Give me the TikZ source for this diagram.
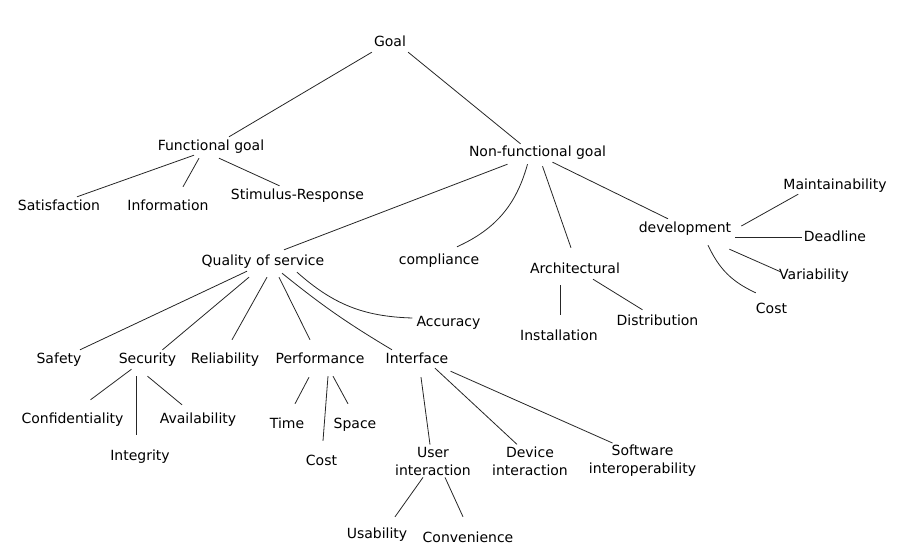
\documentclass[tikz,border=0pt]{standalone}
\usepackage{fontspec}
\setmainfont{DejaVu Sans}
\usepackage{tikz}
\usetikzlibrary{calc}

\tikzset{
  lbl/.style={font=\fontsize{14}{18}\selectfont, text height=11pt, text depth=3pt, inner sep=2pt},
  lbltwo/.style={font=\fontsize{14}{18}\selectfont, align=center, inner sep=2pt},
  edge/.style={line width=0.8pt, black!85}
}

\begin{document}
\begin{tikzpicture}[x=1pt, y=-1pt]
  \useasboundingbox (0,0) rectangle (902,559);
  % Top levels
  \node[lbl] (goal) at (390,43) {Goal};
  \node[lbl] (funcgoal) at (211,146) {Functional goal};
  \node[lbl] (nfgoal) at (537.5,153) {Non-functional goal};
  \node[lbl] (satisfaction) at (59,206) {Satisfaction};
  \node[lbl] (information) at (168,206) {Information};
  \node[lbl] (stimulus) at (297.5,195) {Stimulus-Response};
  \node[lbl] (qos) at (263,261) {Quality of service};
  \node[lbl] (compliance) at (439,260) {compliance};
  \node[lbl] (architectural) at (575,269) {Architectural};
  \node[lbl] (development) at (685,228) {development};
  % Development branch
  \node[lbl] (maintainability) at (835,185) {Maintainability};
  \node[lbl] (deadline) at (835,237) {Deadline};
  \node[lbl] (variability) at (814,275) {Variability};
  \node[lbl] (devcost) at (771.5,309) {Cost};
  \node[lbl] (accuracy) at (448.5,322) {Accuracy};
  \node[lbl] (installation) at (559,336) {Installation};
  \node[lbl] (distribution) at (657.5,321) {Distribution};
  % Quality of service branch
  \node[lbl] (safety) at (59,359) {Safety};
  \node[lbl] (security) at (147.5,359) {Security};
  \node[lbl] (reliability) at (225,359) {Reliability};
  \node[lbl] (performance) at (320,359) {Performance};
  \node[lbl] (interface) at (417,359) {Interface};
  \node[lbl] (confidentiality) at (72.5,419) {Confidentiality};
  \node[lbl] (availability) at (198,419) {Availability};
  \node[lbl] (integrity) at (140,456) {Integrity};
  \node[lbl] (time) at (287,424) {Time};
  \node[lbl] (space) at (355,424) {Space};
  \node[lbl] (perfcost) at (321.5,461) {Cost};
  \node[lbltwo] (userinter) at (433,461) {User\\interaction};
  \node[lbltwo] (deviceinter) at (530,461) {Device\\interaction};
  \node[lbltwo] (softinter) at (642.5,461) {Software\\interoperability};
  \node[lbl] (usability) at (377,534) {Usability};
  \node[lbl] (convenience) at (468,538) {Convenience};

  % Goal and its two kinds
  \draw[edge] (goal.south west) -- ([xshift=18pt]funcgoal.north);
  \draw[edge] (goal.south east) -- ([xshift=-17pt]nfgoal.north);
  \draw[edge] ([xshift=-17pt]funcgoal.south) -- ([xshift=18pt]satisfaction.north);
  \draw[edge] ([xshift=-12pt,yshift=-3pt]funcgoal.south) -- ([xshift=15pt,yshift=10pt]information.north);
  \draw[edge] ([xshift=8pt,yshift=-3pt]funcgoal.south) -- ([xshift=-18pt]stimulus.north);
  % Non-functional goal
  \draw[edge] ([xshift=-30pt,yshift=-2pt]nfgoal.south) -- ([xshift=21pt,yshift=2pt]qos.north);
  \draw[edge] ([xshift=-10pt,yshift=-2pt]nfgoal.south) to[bend left=25] ([xshift=18pt,yshift=4pt]compliance.north);
  \draw[edge] ([xshift=5pt,yshift=-4pt]nfgoal.south) -- ([xshift=-4pt,yshift=12pt]architectural.north);
  \draw[edge] ([xshift=15pt]nfgoal.south) -- ([xshift=-17pt]development.north);
  % Development
  \draw[edge] ([xshift=8pt,yshift=2pt]development.east) -- ([xshift=17pt]maintainability.south west);
  \draw[edge] ([xshift=2pt,yshift=-9pt]development.east) -- (deadline.west);
  \draw[edge] ([xshift=-4pt,yshift=-12pt]development.south east) -- ([xshift=4pt,yshift=3pt]variability.west);
  \draw[edge] ([xshift=23pt,yshift=-8pt]development.south) to[bend right=20] ([xshift=2pt,yshift=7pt]devcost.north west);
  % Architectural
  \draw[edge] ([xshift=-15pt,yshift=-7pt]architectural.south) -- ([xshift=1pt,yshift=12pt]installation.north);
  \draw[edge] ([xshift=18pt,yshift=-1pt]architectural.south) -- ([xshift=-15pt,yshift=2pt]distribution.north);
  % Quality of service
  \draw[edge] ([xshift=-16pt,yshift=-1pt]qos.south) -- ([xshift=21pt]safety.north);
  \draw[edge] ([xshift=-14pt,yshift=-7pt]qos.south) -- ([xshift=15pt]security.north);
  \draw[edge] ([xshift=4pt,yshift=-7pt]qos.south) -- ([xshift=7pt,yshift=10pt]reliability.north);
  \draw[edge] ([xshift=16pt,yshift=-7pt]qos.south) -- ([xshift=-10pt,yshift=10pt]performance.north);
  \draw[edge] ([xshift=19pt,yshift=-3pt]qos.south) to[bend right=4] ([xshift=-25pt]interface.north);
  \draw[edge] ([xshift=34pt,yshift=-2pt]qos.south) to[bend right=20] ([xshift=-2pt,yshift=4pt]accuracy.west);
  % Security
  \draw[edge] ([xshift=-16pt,yshift=-1pt]security.south) -- ([xshift=18pt,yshift=10pt]confidentiality.north);
  \draw[edge] ([xshift=-11.5pt,yshift=-8pt]security.south) -- ([xshift=-4pt,yshift=12pt]integrity.north);
  \draw[edge] ([yshift=-8pt]security.south) -- ([xshift=-16pt,yshift=5pt]availability.north);
  % Performance
  \draw[edge] ([xshift=-11pt,yshift=-9pt]performance.south) -- ([xshift=8pt,yshift=11pt]time.north);
  \draw[edge] ([xshift=8pt,yshift=-8pt]performance.south) -- ([xshift=1.5pt,yshift=11pt]perfcost.north);
  \draw[edge] ([xshift=13pt,yshift=-8pt]performance.south) -- ([xshift=-7pt,yshift=11pt]space.north);
  % Interface
  \draw[edge] ([xshift=4pt,yshift=-9pt]interface.south) -- ([xshift=-3pt]userinter.north);
  \draw[edge] ([xshift=18pt]interface.south) -- ([xshift=-13pt]deviceinter.north);
  \draw[edge] ([yshift=-3pt]interface.south east) -- ([xshift=-30pt]softinter.north);
  \draw[edge] ([xshift=-10pt]userinter.south) -- ([xshift=18pt,yshift=8pt]usability.north);
  \draw[edge] ([xshift=12pt]userinter.south) -- ([xshift=-5pt,yshift=12pt]convenience.north);
\end{tikzpicture}
\end{document}
